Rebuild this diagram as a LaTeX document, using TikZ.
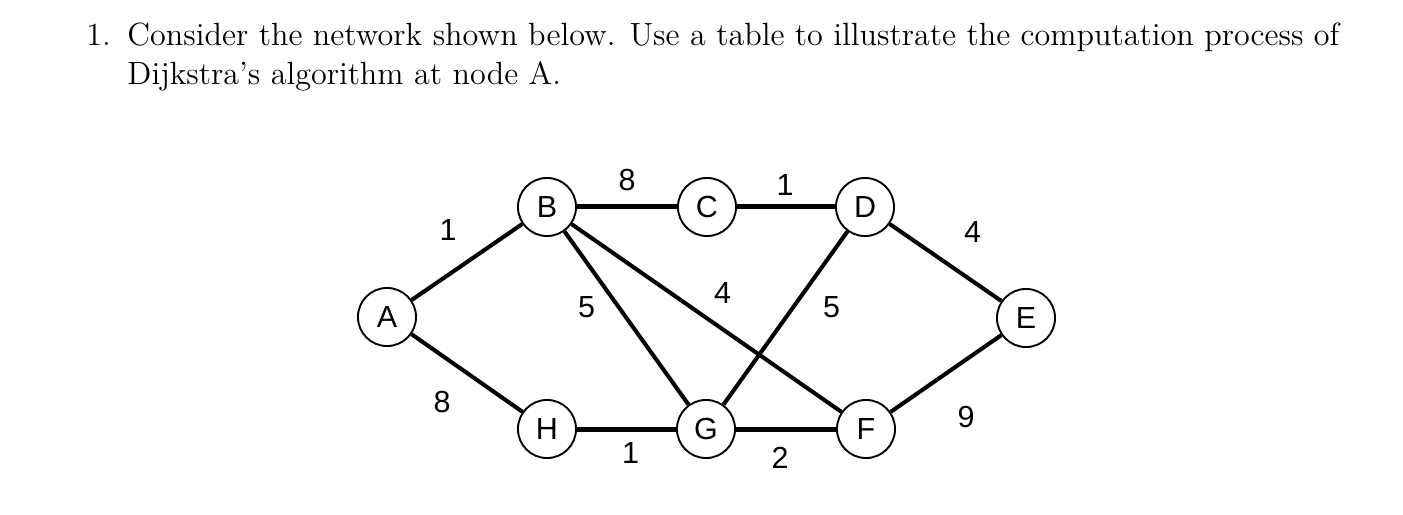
\documentclass[tikz,border=0pt]{standalone}
\usepackage{fontspec}
\newfontfamily\graphfont{Liberation Sans}
\usetikzlibrary{positioning,calc}

\begin{document}
\begin{tikzpicture}[x=0.42pt,y=-0.42pt,
  vertex/.style={circle,draw,line width=0.8pt,minimum size=24.4pt,inner sep=0pt,
    font=\graphfont\fontsize{12.8}{15}\selectfont},
  edge/.style={line width=1.7pt},
  hedge/.style={line width=2.1pt},
  weight/.style={inner sep=0pt,font=\graphfont\fontsize{12.8}{15}\selectfont},
  question/.style={anchor=base west,inner sep=0pt,font=\fontsize{13.5}{16}\selectfont}
]
\useasboundingbox (0,0) rectangle (1403,515);

% the question
\node[question] (num) at (86,46) {1.};
\node[question] (line1) at (127,46) {Consider the network shown below. Use a table to illustrate the computation process of};
\node[question] (line2) at (127,85) {Dijkstra's algorithm at node A.};

% the vertices
\foreach \name/\xx/\yy in {A/387/317,B/547/207,C/707/207,D/865/207,E/1026/318,H/547/429,G/706/429,F/866/429}
  \node[vertex] (\name) at (\xx,\yy) {\name};

% the edges and their weights
\foreach \from/\to/\w/\dx/\dy/\kind in {A/B/1/-19/-32/edge,A/H/8/-25/29/edge,B/C/8/0/-27/hedge,
    C/D/1/-1/-22/hedge,D/E/4/27/-30/edge,E/F/9/20/44/edge,B/G/5/-40/-11/edge,
    B/F/4/16/-25/edge,D/G/5/46/-11/edge,H/G/1/4/24/hedge,G/F/2/-6/29/hedge}
  \draw[\kind] (\from) -- node[weight,shift={(\dx,\dy)}] {\w} (\to);
\end{tikzpicture}
\end{document}
